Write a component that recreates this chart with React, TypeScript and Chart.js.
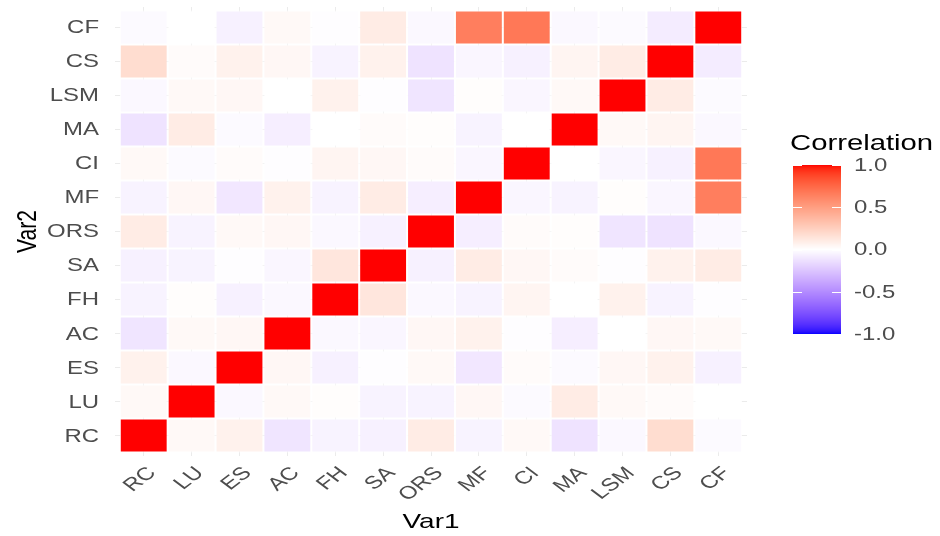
import React, { useEffect, useRef } from "react";
import { Chart, registerables } from "chart.js";

Chart.register(...registerables);

// Variables (Var1 on x from left to right, Var2 on y from bottom to top)
const vars = ["RC", "LU", "ES", "AC", "FH", "SA", "ORS", "MF", "CI", "MA", "LSM", "CS", "CF"];

// Correlation rows (Var2 = row name), values across Var1 = vars order
const rowRC = [1, 0.03, 0.07, -0.11, -0.05, -0.06, 0.1, -0.05, 0.03, -0.12, -0.03, 0.18, -0.02];
const rowLU = [0.03, 1, -0.03, 0.03, 0.01, -0.05, -0.05, 0.04, -0.02, 0.1, 0.03, 0.02, 0.0];
const rowES = [0.07, -0.03, 1, 0.04, -0.06, -0.01, 0.03, -0.1, 0.02, -0.02, 0.04, 0.07, -0.06];
const rowAC = [-0.11, 0.03, 0.04, 1, -0.03, -0.04, 0.04, 0.07, -0.01, -0.07, 0.0, 0.04, 0.03];
const rowFH = [-0.05, 0.01, -0.06, -0.03, 1, 0.13, -0.03, -0.05, 0.05, 0.0, 0.07, -0.05, -0.01];
const rowSA = [-0.06, -0.05, -0.01, -0.04, 0.13, 1, -0.06, 0.1, 0.04, 0.02, -0.01, 0.07, 0.1];
const rowORS = [0.1, -0.05, 0.03, 0.04, -0.03, -0.06, 1, -0.07, 0.02, 0.01, -0.11, -0.12, -0.03];
const rowMF = [-0.05, 0.04, -0.1, 0.07, -0.05, 0.1, -0.07, 1, -0.04, -0.05, 0.01, -0.04, 0.65];
const rowCI = [0.03, -0.02, 0.02, -0.01, 0.05, 0.04, 0.02, -0.04, 1, 0.0, -0.04, -0.06, 0.68];
const rowMA = [-0.12, 0.1, -0.02, -0.07, 0.0, 0.02, 0.01, -0.05, 0.0, 1, 0.03, 0.05, -0.03];
const rowLSM = [-0.03, 0.03, 0.04, 0.0, 0.07, -0.01, -0.11, 0.01, -0.04, 0.03, 1, 0.1, -0.02];
const rowCS = [0.18, 0.02, 0.07, 0.04, -0.05, 0.07, -0.12, -0.04, -0.06, 0.05, 0.1, 1, -0.08];
const rowCF = [-0.02, 0.0, -0.06, 0.03, -0.01, 0.1, -0.03, 0.65, 0.68, -0.03, -0.02, -0.08, 1];

const rows = [rowRC, rowLU, rowES, rowAC, rowFH, rowSA, rowORS, rowMF, rowCI, rowMA, rowLSM, rowCS, rowCF];

const legendTicks = [1.0, 0.5, 0.0, -0.5, -1.0];
const legendTickLabels = ["1.0", "0.5", "0.0", "-0.5", "-1.0"];

// ---- Lab colour interpolation (like ggplot2 scale_fill_gradient2) ----
function toLin(c: number) {
  c /= 255;
  return c <= 0.04045 ? c / 12.92 : Math.pow((c + 0.055) / 1.055, 2.4);
}
function fromLin(c: number) {
  const v = c <= 0.0031308 ? 12.92 * c : 1.055 * Math.pow(c, 1 / 2.4) - 0.055;
  return Math.max(0, Math.min(255, Math.round(v * 255)));
}
const Xn = 0.95047, Yn = 1.0, Zn = 1.08883;
function f(t: number) {
  return t > 0.008856 ? Math.cbrt(t) : 7.787 * t + 16 / 116;
}
function finv(t: number) {
  const t3 = t * t * t;
  return t3 > 0.008856 ? t3 : (t - 16 / 116) / 7.787;
}
function rgbToLab(r: number, g: number, b: number) {
  const R = toLin(r), G = toLin(g), B = toLin(b);
  const X = 0.4124564 * R + 0.3575761 * G + 0.1804375 * B;
  const Y = 0.2126729 * R + 0.7151522 * G + 0.072175 * B;
  const Z = 0.0193339 * R + 0.119192 * G + 0.9503041 * B;
  const fx = f(X / Xn), fy = f(Y / Yn), fz = f(Z / Zn);
  return [116 * fy - 16, 500 * (fx - fy), 200 * (fy - fz)];
}
function labToRgb(L: number, a: number, b: number) {
  const fy = (L + 16) / 116;
  const fx = fy + a / 500;
  const fz = fy - b / 200;
  const X = Xn * finv(fx), Y = Yn * finv(fy), Z = Zn * finv(fz);
  const R = 3.2404542 * X - 1.5371385 * Y - 0.4985314 * Z;
  const G = -0.969266 * X + 1.8760108 * Y + 0.041556 * Z;
  const B = 0.0556434 * X - 0.2040259 * Y + 1.0572252 * Z;
  return [fromLin(R), fromLin(G), fromLin(B)];
}
const LAB_WHITE = rgbToLab(255, 255, 255);
const LAB_RED = rgbToLab(255, 0, 0);
const LAB_BLUE = rgbToLab(0, 0, 255);
function corrColor(v: number) {
  const t = Math.min(1, Math.abs(v));
  const end = v >= 0 ? LAB_RED : LAB_BLUE;
  const L = LAB_WHITE[0] + (end[0] - LAB_WHITE[0]) * t;
  const A = LAB_WHITE[1] + (end[1] - LAB_WHITE[1]) * t;
  const B = LAB_WHITE[2] + (end[2] - LAB_WHITE[2]) * t;
  const [r, g, b] = labToRgb(L, A, B);
  return `rgb(${r},${g},${b})`;
}

const SX = 1.33; // horizontal stretch of the reference image text
const FONT = '"Liberation Sans", Arial, sans-serif';

function drawText(
  ctx: CanvasRenderingContext2D,
  s: string,
  x: number,
  y: number,
  size: number,
  color: string,
  align: CanvasTextAlign,
  baseline: CanvasTextBaseline,
  rot = 0
) {
  ctx.save();
  ctx.translate(x, y);
  ctx.scale(SX, 1);
  if (rot) ctx.rotate(rot);
  ctx.font = `${size}px ${FONT}`;
  ctx.fillStyle = color;
  ctx.textAlign = align;
  ctx.textBaseline = baseline;
  ctx.fillText(s, 0, 0);
  ctx.restore();
}

const textPlugin = {
  id: "textPlugin",
  afterDraw(chart: any) {
    const ctx: CanvasRenderingContext2D = chart.ctx;
    const xs = chart.scales.x;
    const ys = chart.scales.y;
    const area = chart.chartArea;
    // y tick labels
    vars.forEach((v, i) => {
      drawText(ctx, v, 99, ys.getPixelForValue(i) + 1, 18, "#4D4D4D", "right", "middle");
    });
    // x tick labels, rotated 45°
    vars.forEach((v, j) => {
      drawText(ctx, v, xs.getPixelForValue(j), 464, 18, "#4D4D4D", "right", "top", -Math.PI / 4);
    });
    // axis titles
    drawText(ctx, "Var1", (area.left + area.right) / 2, 528, 21, "#000000", "center", "alphabetic");
    drawText(ctx, "Var2", 36, (area.top + area.bottom) / 2, 21, "#000000", "center", "alphabetic", -Math.PI / 2);

    // legend colour bar
    const barX = 793, barW = 48;
    const yv = (v: number) => 249.5 - v * 84.5;
    const top = yv(1), bottom = yv(-1);
    for (let y = Math.floor(top); y < Math.ceil(bottom); y++) {
      const v = (249.5 - (y + 0.5)) / 84.5;
      ctx.fillStyle = corrColor(Math.max(-1, Math.min(1, v)));
      ctx.fillRect(barX, y, barW, 1);
    }
    ctx.strokeStyle = "#FFFFFF";
    ctx.lineWidth = 1;
    legendTicks.forEach((v) => {
      const y = Math.round(yv(v)) + 0.5;
      ctx.beginPath();
      ctx.moveTo(barX, y);
      ctx.lineTo(barX + 9, y);
      ctx.moveTo(barX + barW - 9, y);
      ctx.lineTo(barX + barW, y);
      ctx.stroke();
    });
    legendTickLabels.forEach((s, k) => {
      drawText(ctx, s, 854, yv(legendTicks[k]) + 1, 18, "#4D4D4D", "left", "middle");
    });
    drawText(ctx, "Correlation", 790, 150, 22, "#000000", "left", "alphabetic");
  },
};

export default function App() {
  const ref = useRef<HTMLCanvasElement>(null);
  useEffect(() => {
    if (!ref.current) return;
    const datasets = rows.map((row, i) => ({
      label: vars[i],
      data: row.map((v, j) => ({ x: j, y: [i - 0.5, i + 0.5] })),
      backgroundColor: row.map((v) => corrColor(v)),
      borderColor: "#FFFFFF",
      borderWidth: 1,
      borderSkipped: false,
      barPercentage: 1,
      categoryPercentage: 1,
      grouped: false,
      inflateAmount: 0,
    }));
    const ticksAt = (scale: any) => {
      scale.ticks = vars.map((_, k) => ({ value: k }));
    };
    const chart = new Chart(ref.current, {
      type: "bar",
      data: { datasets } as any,
      options: {
        animation: false,
        responsive: false,
        maintainAspectRatio: false,
        layout: { padding: { left: 0, right: 193, top: 7, bottom: 0 } },
        plugins: { legend: { display: false }, tooltip: { enabled: false } },
        scales: {
          x: {
            type: "linear",
            offset: false,
            min: -0.6,
            max: 12.6,
            afterBuildTicks: ticksAt,
            afterFit: (s: any) => {
              s.height = 80;
            },
            ticks: { display: false },
            grid: { color: "#EBEBEB", lineWidth: 1, tickLength: 0, drawTicks: false, offset: false },
            border: { display: false },
          },
          y: {
            type: "linear",
            offset: false,
            min: -0.6,
            max: 12.6,
            afterBuildTicks: ticksAt,
            afterFit: (s: any) => {
              s.width = 115;
            },
            ticks: { display: false },
            grid: { color: "#EBEBEB", lineWidth: 1, tickLength: 0, drawTicks: false, offset: false },
            border: { display: false },
          },
        },
      } as any,
      plugins: [textPlugin],
    });
    return () => chart.destroy();
  }, []);
  return (
    <div style={{ position: "absolute", left: 0, top: 0, width: 940, height: 536, background: "#fff" }}>
      <canvas ref={ref} width={940} height={536} style={{ display: "block" }} />
    </div>
  );
}
